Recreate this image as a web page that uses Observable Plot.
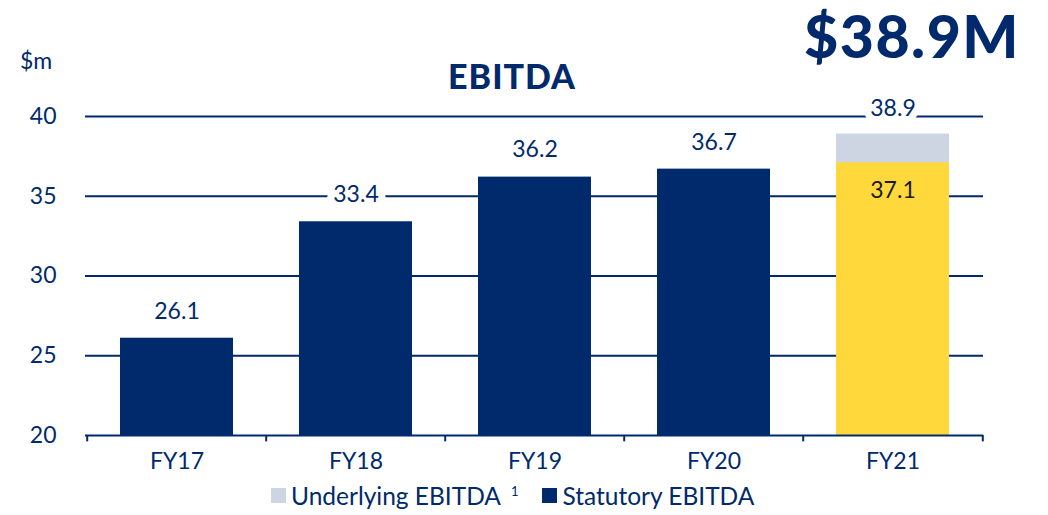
<!DOCTYPE html>
<html>
<head>
<meta charset="utf-8">
<script src="https://cdn.jsdelivr.net/npm/d3@7"></script>
<script src="https://cdn.jsdelivr.net/npm/@observablehq/plot@0.6"></script>
<style>
  html, body { margin: 0; padding: 0; background: #fff; }
  body { width: 1048px; height: 515px; position: relative; overflow: hidden; font-family: Lato, "Open Sans", sans-serif; color: #002a6c; }
  #chart { position: absolute; left: 0; top: 0; }
  .ov { position: absolute; white-space: nowrap; }
  #big { right: 28px; top: 0px; font-size: 59px; line-height: normal; font-weight: 900; letter-spacing: 1.5px; }
  #title { left: 0; width: 1024px; text-align: center; top: 55px; font-size: 34px; font-weight: 900; letter-spacing: 1px; }
  #unit { left: 20px; top: 46px; font-size: 23px; }
  #legend { left: 271px; top: 481px; font-size: 24.5px; display: flex; align-items: center; }
  .sw { display: inline-block; width: 15px; height: 15px; margin-right: 5px; }
  sup { font-size: 13px; position: relative; top: -5px; margin-left: 10px; }
</style>
</head>
<body>
<div id="chart"></div>
<div class="ov" id="big">$38.9M</div>
<div class="ov" id="title">EBITDA</div>
<div class="ov" id="unit">$m</div>
<div class="ov" id="legend"></div>
<script>
const categories = ["FY17", "FY18", "FY19", "FY20", "FY21"];
const statutory = [26.1, 33.4, 36.2, 36.7, 37.1];
const underlying = [null, null, null, null, 38.9];
const yTicks = [20, 25, 30, 35, 40];
const seriesNames = ["Underlying EBITDA", "Statutory EBITDA"];

const navy = "#002a6c";
const yellow = "#ffd93b";
const grey = "#cdd5e3";
const highlight = "FY21";

const rows = categories.map((c, i) => ({cat: c, stat: statutory[i], und: underlying[i]}));
const undRows = rows.filter(d => d.und != null);

const W = 1048, ML = 85, MR = 65;
const step = (W - ML - MR) / categories.length;
const inset = 33;
const font = "Lato, 'Open Sans', sans-serif";

const plot = Plot.plot({
  width: W,
  height: 515,
  marginLeft: ML,
  marginRight: MR,
  marginTop: 116,
  marginBottom: 80,
  style: {fontFamily: font, fontSize: "23px", color: navy, background: "white"},
  x: {domain: categories, padding: 0, label: null, tickSize: 0, tickPadding: 17},
  y: {domain: [20, 40], ticks: yTicks, label: null, tickSize: 0, tickPadding: 29, tickFormat: d => String(d)},
  marks: [
    Plot.ruleY(yTicks.filter(t => t > 20), {stroke: navy, strokeWidth: 2}),
    Plot.barY(undRows, {x: "cat", y1: 20, y2: "und", fill: grey, insetLeft: inset, insetRight: inset}),
    Plot.barY(rows, {x: "cat", y1: 20, y2: "stat", fill: d => d.cat === highlight ? yellow : navy, insetLeft: inset, insetRight: inset}),
    Plot.ruleY([20], {stroke: navy, strokeWidth: 2}),
    Plot.ruleX(categories, {x: d => d, dx: -step / 2, y1: 20, y2: 19.6, stroke: navy, strokeWidth: 2}),
    Plot.ruleX([categories[categories.length - 1]], {x: d => d, dx: step / 2, y1: 20, y2: 19.6, stroke: navy, strokeWidth: 2}),
    Plot.text(rows.filter(d => d.und == null), {x: "cat", y: "stat", text: d => d.stat.toFixed(1), dy: -27, fill: navy, fontSize: 23, stroke: "white", strokeWidth: 14}),
    Plot.text(undRows, {x: "cat", y: "und", text: d => d.und.toFixed(1), dy: -25, fill: navy, fontSize: 23, stroke: "white", strokeWidth: 14}),
    Plot.text(undRows, {x: "cat", y: "stat", text: d => d.stat.toFixed(1), dy: 28, fill: "#1a1a1a", fontSize: 23})
  ]
});
plot.querySelectorAll("[aria-label='x-axis tick label'] text, [aria-label='y-axis tick label'] text").forEach(t => t.setAttribute("fill", navy));
document.getElementById("chart").appendChild(plot);

const legendColors = [grey, navy];
const leg = document.getElementById("legend");
seriesNames.forEach((name, i) => {
  const item = document.createElement("span");
  item.style.display = "inline-flex";
  item.style.alignItems = "center";
  item.style.marginRight = i === 0 ? "24px" : "0";
  const sw = document.createElement("span");
  sw.className = "sw";
  sw.style.background = legendColors[i];
  item.appendChild(sw);
  const label = document.createElement("span");
  label.textContent = name;
  item.appendChild(label);
  if (i === 0) {
    const s = document.createElement("sup");
    s.textContent = "1";
    item.appendChild(s);
  }
  leg.appendChild(item);
});
</script>
</body>
</html>
